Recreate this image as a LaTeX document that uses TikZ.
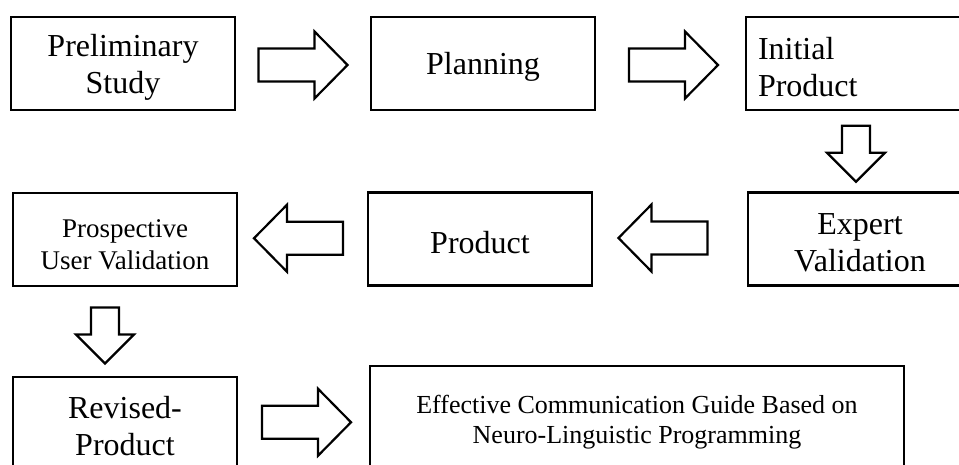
\documentclass[tikz,border=0pt]{standalone}
\usepackage{fontspec}
\setmainfont{Liberation Serif}
\usetikzlibrary{calc}

\begin{document}
\begin{tikzpicture}[x=1pt, y=-1pt,
    stepbox/.style={draw, line width=2.2pt, minimum width=224pt, minimum height=93pt,
        inner sep=0pt, text width=216pt, align=flush center, font=\fontsize{32}{37}\selectfont,
        execute at begin node={\rule{0pt}{29pt}}},
    smallbox/.style={stepbox, font=\fontsize{27}{32}\selectfont,
        execute at begin node={\rule{0pt}{24pt}}},
    blockarrow/.style={draw, line width=2.2pt, fill=white, line join=miter}]
\useasboundingbox (0,0) rectangle (959,464);
\clip (0,0) rectangle (959,464);
% FIRST ROW
\node[stepbox] (prelim) at (123,63.5) {Preliminary\\Study};
\node[stepbox] (plan) at (483,63.5) {Planning};
\node[stepbox, text width=200pt, align=flush left] (init) at (858,63.5) {Initial\\Product};
% SECOND ROW
\node[stepbox] (expert) at (860,239) {Expert\\Validation};
\node[stepbox] (product) at (480,239) {Product};
\node[smallbox] (prosp) at (125,239.5) {Prospective\\User Validation};
% THIRD ROW (bottom edges run off the page)
\node[stepbox, minimum height=91pt, execute at begin node={}] (revised) at (125,422.5) {Revised-\\Product};
\node[stepbox, minimum width=534pt, minimum height=102pt, text width=520pt,
    font=\fontsize{26}{30}\selectfont, execute at begin node={}]
    (guide) at (637,417) {Effective Communication Guide Based on\\Neuro-Linguistic Programming};
% ARROWS (right / left)
\coordinate (a1) at ($(prelim.east)!0.5!(plan.west)+(0,1.5)$);
\coordinate (a2) at ($(plan.east)!0.5!(init.west)+(3,1.5)$);
\coordinate (a3) at ($(product.east)!0.5!(expert.west)+(-7,-1)$);
\coordinate (a4) at ($(prosp.east)!0.5!(product.west)+(-4,-1)$);
\coordinate (a5) at ($(revised.east)!0.5!(guide.west)+(3,2.5)$);
\foreach \c in {a1,a2,a5}
    \draw[blockarrow, shift={(\c)}] (-44.5,-16.5) -- (11.5,-16.5) -- (11.5,-33.5) -- (44.5,0)
        -- (11.5,33.5) -- (11.5,16.5) -- (-44.5,16.5) -- cycle;
\foreach \c in {a3,a4}
    \draw[blockarrow, shift={(\c)}] (44.5,-16.5) -- (-11.5,-16.5) -- (-11.5,-33.5) -- (-44.5,0)
        -- (-11.5,33.5) -- (-11.5,16.5) -- (44.5,16.5) -- cycle;
% ARROWS (down)
\coordinate (d1) at ($(init.south)!0.5!(expert.north)+(-3,2.5)$);
\coordinate (d2) at ($(prosp.south)!0.5!(revised.north)+(-20,4)$);
\foreach \c in {d1,d2}
    \draw[blockarrow, shift={(\c)}] (-14,-28) -- (-14,-1) -- (-29,-1) -- (0,28)
        -- (29,-1) -- (14,-1) -- (14,-28) -- cycle;
\end{tikzpicture}
\end{document}
